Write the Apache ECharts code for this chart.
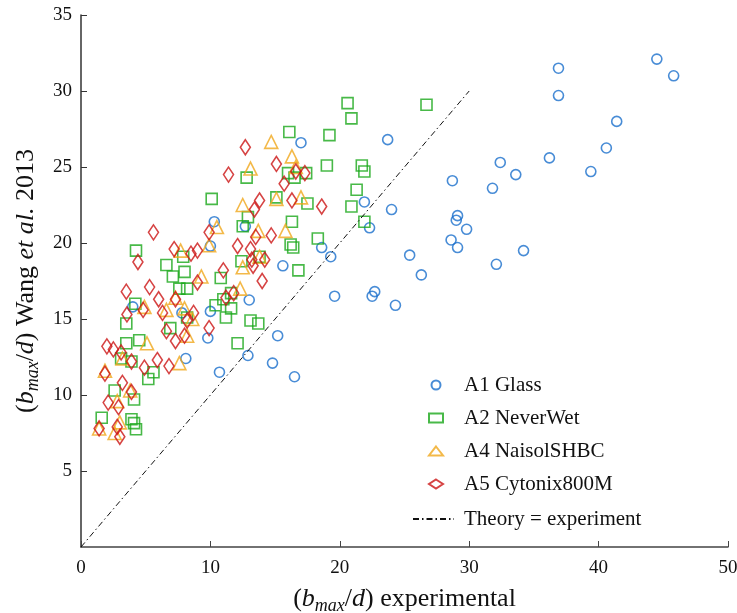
<!DOCTYPE html>
<html>
<head>
<meta charset="utf-8">
<script src="https://cdn.jsdelivr.net/npm/echarts@6/dist/echarts.min.js"></script>
<style>
  html, body { margin: 0; padding: 0; background: #fff; }
  #main { width: 737px; height: 613px; }
</style>
</head>
<body>
<div id="main"></div>
<script>
var seriesNames = ['A1 Glass', 'A2 NeverWet', 'A4 NaisolSHBC', 'A5 Cytonix800M', 'Theory = experiment'];

// [experimental, Wang et al. 2013]
var glass = [
  [44.5,32.1],[45.8,31.0],[36.9,31.5],[36.9,29.7],[41.4,28.0],[40.6,26.25],[36.2,25.6],[39.4,24.7],
  [32.4,25.3],[33.6,24.5],[31.8,23.6],[28.7,24.1],[23.7,26.8],[17.0,26.6],[29.1,21.8],[29.0,21.5],
  [29.8,20.9],[28.6,20.2],[29.1,19.7],[25.4,19.2],[26.3,17.9],[32.1,18.6],[34.2,19.5],[21.9,22.7],
  [22.3,21.0],[24.0,22.2],[18.6,19.7],[19.3,19.1],[15.6,18.5],[19.6,16.5],[22.7,16.8],[22.5,16.5],
  [24.3,15.9],[15.2,13.9],[16.5,11.2],[10.3,21.4],[10.0,19.8],[13.0,16.25],[10.0,15.5],[9.8,13.75],
  [8.1,12.4],[10.7,11.5],[12.9,12.6],[14.8,12.1],[7.8,15.4],[12.7,21.1],[4.0,15.8]
];
var neverWet = [
  [16.1,27.3],[12.8,24.3],[16.0,24.6],[16.5,24.3],[17.4,24.6],[10.1,22.9],[15.1,23.0],[20.6,29.2],
  [20.9,28.2],[19.2,27.1],[19.0,25.1],[21.7,25.1],[21.9,24.7],[21.3,23.5],[17.5,22.6],[20.9,22.4],
  [12.9,21.7],[12.5,21.1],[21.9,21.4],[16.3,21.4],[18.3,20.3],[16.2,19.9],[16.4,19.7],[6.6,18.55],
  [12.4,18.8],[13.8,19.1],[7.9,19.1],[8.0,18.1],[7.1,17.8],[16.8,18.2],[10.8,17.7],[7.6,17.0],
  [8.2,17.0],[11.0,16.3],[11.6,16.7],[4.25,19.5],[4.2,16.0],[3.5,14.7],[3.5,13.4],[4.5,13.6],
  [3.1,12.4],[3.9,12.2],[5.2,11.05],[5.6,11.5],[6.9,14.4],[10.4,15.9],[11.6,15.7],[11.2,15.1],
  [13.1,14.9],[13.7,14.7],[12.1,13.4],[8.2,15.1],[2.6,10.3],[4.1,9.7],[1.6,8.5],[3.9,8.4],
  [4.1,8.15],[4.25,7.75],[26.7,29.1]
];
var naisol = [
  [14.7,26.65],[16.3,25.7],[13.1,24.9],[17.0,23.0],[16.6,25.0],[12.5,22.5],[15.1,22.9],[10.5,21.05],
  [13.7,20.8],[15.8,20.8],[9.9,19.85],[7.7,19.5],[13.8,19.1],[12.5,18.4],[9.3,17.8],[12.3,17.0],
  [7.3,16.4],[6.6,15.6],[8.0,15.7],[8.6,15.0],[4.9,15.8],[8.2,13.9],[5.1,13.4],[7.6,12.1],
  [3.2,12.4],[1.85,11.6],[2.8,9.6],[3.8,10.3],[3.0,8.2],[2.6,7.5],[1.4,7.8]
];
var cytonix = [
  [12.7,26.3],[11.4,24.5],[15.1,25.2],[16.6,24.7],[17.3,24.6],[15.7,23.9],[13.8,22.8],[16.3,22.8],
  [13.4,22.2],[18.6,22.4],[5.6,20.7],[9.9,20.7],[7.2,19.6],[8.5,19.3],[9.0,19.5],[13.5,20.4],
  [14.7,20.5],[12.1,19.8],[13.1,19.6],[14.2,18.9],[13.2,18.9],[13.3,18.5],[11.0,18.2],[9.0,17.4],
  [14.0,17.5],[11.8,16.7],[11.2,16.4],[5.3,17.1],[6.0,16.3],[7.3,16.3],[4.4,18.75],[3.5,16.8],
  [4.8,15.6],[3.55,15.3],[6.3,15.4],[8.7,15.4],[8.2,14.9],[8.0,13.9],[7.3,13.55],[6.6,14.2],
  [9.9,14.4],[2.0,13.2],[2.5,13.0],[3.1,12.8],[3.9,12.2],[4.9,11.8],[5.9,12.3],[6.8,11.9],
  [1.85,11.4],[3.2,10.8],[3.9,10.2],[2.1,9.5],[2.9,9.2],[1.4,7.8],[2.8,7.9],[3.0,7.25]
];
var theoryLine = [[0, 0], [30, 30]];

var serif = 'Liberation Serif';
var myChart = echarts.init(document.getElementById('main'));

function hollow(name, data, symbol, size, color) {
  return {
    name: name,
    type: 'scatter',
    data: data,
    symbol: symbol,
    symbolSize: size,
    itemStyle: { color: 'rgba(0,0,0,0)', borderColor: color, borderWidth: 1.6 },
    emphasis: { disabled: true }
  };
}

var nameRich = {
  n: { fontFamily: serif, fontSize: 26, color: '#111' },
  i: { fontFamily: serif, fontSize: 26, fontStyle: 'italic', color: '#111' },
  s: { fontFamily: serif, fontSize: 18, fontStyle: 'italic', color: '#111', padding: [14, 0, 0, 0] }
};

var option = {
  animation: false,
  grid: { left: 81, right: 9, top: 15, bottom: 66, outerBoundsMode: 'none', containLabel: false },
  legend: [{
    orient: 'vertical',
    left: 428,
    top: 373,
    padding: 0,
    itemWidth: 14,
    itemHeight: 9,
    itemGap: 9,
    textStyle: { fontFamily: serif, fontSize: 21, lineHeight: 24, color: '#111', padding: [0, 0, 0, 16] },
    data: seriesNames.slice(0, 4)
  }, {
    orient: 'vertical',
    left: 412,
    top: 507,
    padding: 0,
    itemWidth: 41,
    itemHeight: 9,
    itemStyle: { opacity: 0 },
    textStyle: { fontFamily: serif, fontSize: 21, lineHeight: 24, color: '#111', padding: [0, 0, 0, 5] },
    data: seriesNames.slice(4)
  }],
  xAxis: {
    type: 'value',
    min: 0, max: 50, interval: 10,
    name: '{n|(}{i|b}{s|max}{n|/}{i|d}{n|) experimental}',
    nameLocation: 'middle',
    nameGap: 36,
    nameTextStyle: { rich: nameRich },
    axisLine: { lineStyle: { color: '#444', width: 1.5 } },
    axisTick: { inside: true, length: 6, lineStyle: { color: '#444' } },
    axisLabel: { fontFamily: serif, fontSize: 19, color: '#111', margin: 12 },
    splitLine: { show: false }
  },
  yAxis: {
    type: 'value',
    min: 0, max: 35, interval: 5,
    name: '{n|(}{i|b}{s|max}{n|/}{i|d}{n|) Wang }{i|et al.}{n| 2013}',
    nameLocation: 'middle',
    nameGap: 34,
    nameTextStyle: { rich: nameRich },
    axisLine: { show: true, lineStyle: { color: '#333', width: 1.5 } },
    axisTick: { show: true, inside: true, length: 6, lineStyle: { color: '#333' } },
    axisLabel: { fontFamily: serif, fontSize: 19, color: '#111', margin: 9, showMinLabel: false },
    splitLine: { show: false }
  },
  series: [
    hollow(seriesNames[0], glass, 'circle', 10, '#1a6fcc'),
    hollow(seriesNames[1], neverWet, 'rect', 11, '#1aa81a'),
    hollow(seriesNames[2], naisol, 'triangle', 13, '#f0a81c'),
    hollow(seriesNames[3], cytonix, 'diamond', [10, 15], '#cc1414'),
    {
      name: seriesNames[4],
      type: 'line',
      data: theoryLine,
      symbol: 'none',
      itemStyle: { color: '#111' },
      lineStyle: { color: '#111', width: 1, type: [6, 3, 1.5, 3] },
      emphasis: { disabled: true }
    }
  ]
};
myChart.setOption(option);
</script>
</body>
</html>
